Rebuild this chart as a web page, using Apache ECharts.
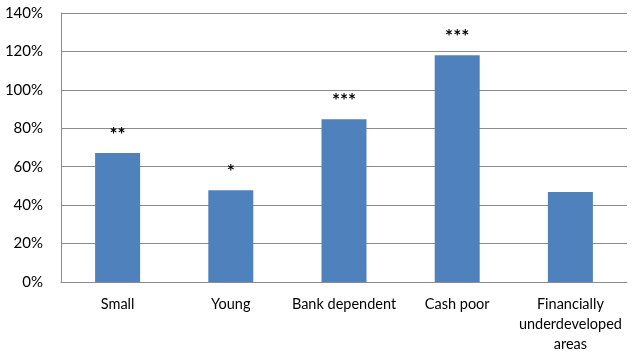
<!DOCTYPE html>
<html>
<head>
<meta charset="utf-8">
<script src="https://cdn.jsdelivr.net/npm/echarts@6/dist/echarts.min.js"></script>
<style>html,body{margin:0;padding:0;background:#fff}#c{width:632px;height:357px}</style>
</head>
<body>
<div id="c"></div>
<script>
const categories = ["Small", "Young", "Bank dependent", "Cash poor", "Financially\nunderdeveloped\nareas"];
const values = [67.2, 47.8, 84.7, 118, 46.8];
const significance = ["**", "*", "***", "***", ""];
const yTicks = [0, 20, 40, 60, 80, 100, 120, 140];

const chart = echarts.init(document.getElementById('c'));
chart.setOption({
  animation: false,
  grid: { left: 61, right: 5, top: 13, bottom: 75 },
  xAxis: {
    type: 'category',
    data: categories,
    axisLine: { show: true, lineStyle: { color: '#8c8c8c', width: 1 } },
    axisTick: { show: false },
    axisLabel: { color: '#000', fontFamily: 'Lato', fontSize: 14.5, margin: 12, lineHeight: 20, interval: 0 }
  },
  yAxis: {
    type: 'value',
    min: yTicks[0],
    max: yTicks[yTicks.length - 1],
    interval: 20,
    axisLine: { show: true, lineStyle: { color: '#8c8c8c', width: 1 } },
    axisTick: { show: false },
    splitLine: { lineStyle: { color: '#8c8c8c', width: 1 } },
    axisLabel: { color: '#000', fontFamily: 'Lato', fontSize: 15, margin: 18, formatter: v => v + '%' }
  },
  series: [{
    type: 'bar',
    data: values,
    barWidth: 45,
    itemStyle: { color: '#4f81bd' },
    label: {
      show: true,
      position: 'top',
      distance: 9,
      color: '#000',
      fontFamily: 'Lato',
      fontSize: 19,
      fontWeight: 'bold',
      formatter: p => significance[p.dataIndex]
    }
  }]
});
</script>
</body>
</html>
